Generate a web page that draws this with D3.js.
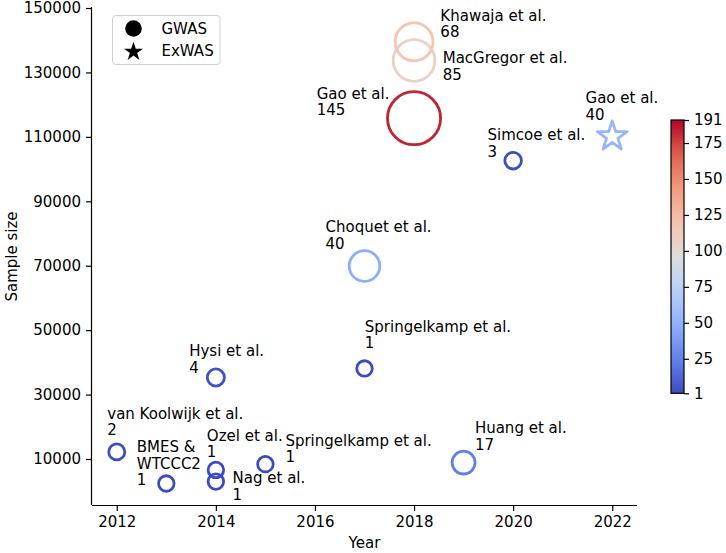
<!DOCTYPE html>
<html>
<head>
<meta charset="utf-8">
<script src="https://cdn.jsdelivr.net/npm/d3@7"></script>
<style>
  body { margin: 0; background: #fff; }
  text { font-family: "DejaVu Sans", sans-serif; fill: #000; }
</style>
</head>
<body>
<svg id="chart" width="726" height="553"></svg>
<script>
// ---------------- DATA ----------------
const studies = ["van Koolwijk et al.", "BMES & WTCCC2", "Hysi et al.", "Ozel et al.", "Nag et al.",
  "Springelkamp et al.", "Springelkamp et al.", "Choquet et al.", "Gao et al.", "MacGregor et al.",
  "Khawaja et al.", "Huang et al.", "Simcoe et al.", "Gao et al."];
const labelLines = [["van Koolwijk et al."], ["BMES &", "WTCCC2"], ["Hysi et al."], ["Ozel et al."], ["Nag et al."],
  ["Springelkamp et al."], ["Springelkamp et al."], ["Choquet et al."], ["Gao et al."], ["MacGregor et al."],
  ["Khawaja et al."], ["Huang et al."], ["Simcoe et al."], ["Gao et al."]];
const years = [2012, 2013, 2014, 2014, 2014, 2015, 2017, 2017, 2018, 2018, 2018, 2019, 2020, 2022];
const sampleSizes = [12200, 2400, 35300, 6600, 3000, 8400, 38100, 69900, 115800, 133700, 139500, 8900, 102600, 110600];
const lociCounts = [2, 1, 4, 1, 1, 1, 1, 40, 145, 85, 68, 17, 3, 40];
const colorValues = [3, 1, 4, 1, 1, 1, 1, 47, 183, 107, 118, 24, 3, 53];
const studyTypes = ["GWAS", "GWAS", "GWAS", "GWAS", "GWAS", "GWAS", "GWAS", "GWAS", "GWAS", "GWAS", "GWAS", "GWAS", "GWAS", "ExWAS"];
const xTicks = [2012, 2014, 2016, 2018, 2020, 2022];
const yTicks = [10000, 30000, 50000, 70000, 90000, 110000, 130000, 150000];
const cbarTicks = [1, 25, 50, 75, 100, 125, 150, 175, 191];
const legendTypes = ["GWAS", "ExWAS"];

// ---------------- LAYOUT (annotation offsets in px, first-line baseline) ----------------
const labelOffsets = [[-9.5, -33], [-29.5, -31], [-26.7, -21], [-9, -29], [16.7, 1.6],
  [20, -18.3], [0.3, -36.6], [-39, -33.7], [-97.3, -19.3], [28.7, 2.6],
  [26.3, -21], [11.3, -29.4], [-25.6, -20.3], [-26.7, -31.7]];

const svg = d3.select("#chart");
const mLeft = 92, mRight = 637, mTop = 8, mBottom = 505;

const x = d3.scaleLinear().domain([2011.5, 2022.5]).range([mLeft, mRight]);
const y = d3.scaleLinear().domain([-4280, 150000]).range([mBottom, mTop]);

// coolwarm colormap
const coolwarmStops = ["#3b4cc0", "#6282ea", "#8db0fe", "#b8d0f9", "#dddddd", "#f5c4ad", "#f49a7b", "#de604d", "#b40426"];
const coolwarm = d3.piecewise(d3.interpolateRgb, coolwarmStops);
const color = d3.scaleSequential(coolwarm).domain([1, 191]);

// marker size: area linear in loci count
const area = d3.scaleLinear().domain([1, 145]).range([60, 705]);
const radius = n => Math.sqrt(area(n));

const data = studies.map((s, i) => ({
  name: s, lines: labelLines[i].concat([String(lociCounts[i])]),
  year: years[i], size: sampleSizes[i], n: lociCounts[i], c: colorValues[i],
  type: studyTypes[i], off: labelOffsets[i]
}));

// axes
const xAxis = d3.axisBottom(x).tickValues(xTicks).tickFormat(d3.format("d")).tickSize(6).tickPadding(5);
const yAxis = d3.axisLeft(y).tickValues(yTicks).tickFormat(d3.format("d")).tickSize(6).tickPadding(5);

const gx = svg.append("g").attr("transform", `translate(0,${mBottom})`).call(xAxis);
gx.select(".domain").attr("d", `M${mLeft},0.5H${mRight}`);
const gy = svg.append("g").attr("transform", `translate(${mLeft},0)`).call(yAxis);
gy.select(".domain").attr("d", `M-0.5,${mBottom}V${mTop - 1}`);
[gx, gy].forEach(g => {
  g.selectAll("text").style("font-size", "15px").style("font-family", "DejaVu Sans, sans-serif").attr("fill", "#000");
  g.selectAll("line").attr("stroke", "#000").attr("stroke-width", 1.2);
  g.select(".domain").attr("stroke", "#000").attr("stroke-width", 1.2);
});

svg.append("text").attr("x", (mLeft + mRight) / 2).attr("y", 548).attr("text-anchor", "middle")
  .style("font-size", "15px").text("Year");
svg.append("text").attr("transform", `translate(17,${(mTop + mBottom) / 2}) rotate(-90)`)
  .attr("text-anchor", "middle").style("font-size", "15px").text("Sample size");

// markers
const starSym = d3.symbol().type(d3.symbolStar);
const marks = svg.append("g");
data.forEach(d => {
  const cx = x(d.year), cy = y(d.size), r = radius(d.n);
  if (d.type === "GWAS") {
    marks.append("circle").attr("cx", cx).attr("cy", cy).attr("r", r)
      .attr("fill", "none").attr("stroke", color(d.c)).attr("stroke-width", 2.8);
  } else {
    const R = r * 1.02;
    marks.append("path").attr("d", starSym.size(R * R / 0.8908130915292852)())
      .attr("transform", `translate(${cx},${cy + R * 0.1})`)
      .attr("fill", "none").attr("stroke", color(d.c)).attr("stroke-width", 2.8).attr("stroke-linejoin", "round");
  }
});

// labels
const labels = svg.append("g");
data.forEach(d => {
  const t = labels.append("text").attr("x", x(d.year) + d.off[0]).attr("y", y(d.size) + d.off[1])
    .style("font-size", "15px");
  d.lines.forEach((ln, k) => {
    t.append("tspan").attr("x", x(d.year) + d.off[0]).attr("dy", k === 0 ? 0 : 16.5).text(ln);
  });
});

// legend
const lg = svg.append("g");
lg.append("rect").attr("x", 112.5).attr("y", 15.5).attr("width", 107.5).attr("height", 49)
  .attr("rx", 3).attr("fill", "#fff").attr("fill-opacity", 0.8).attr("stroke", "#d0d0d0").attr("stroke-width", 1);
legendTypes.forEach((t, i) => {
  const ly = 28.5 + i * 22.3;
  if (t === "GWAS") {
    lg.append("circle").attr("cx", 133.5).attr("cy", ly).attr("r", 8.3).attr("fill", "#000");
  } else {
    const R = 10;
    lg.append("path").attr("d", starSym.size(R * R / 0.8908130915292852)())
      .attr("transform", `translate(133.5,${ly + 1})`).attr("fill", "#000");
  }
  lg.append("text").attr("x", 161.5).attr("y", ly + 5.3).style("font-size", "15px").text(t);
});

// colorbar
const cbX = 671, cbW = 13, cbTop = 120, cbBot = 393.3;
const cy2 = d3.scaleLinear().domain([1, 191]).range([cbBot, cbTop]);
const defs = svg.append("defs");
const grad = defs.append("linearGradient").attr("id", "cw").attr("x1", 0).attr("y1", 1).attr("x2", 0).attr("y2", 0);
d3.range(0, 1.0001, 0.05).forEach(t => {
  grad.append("stop").attr("offset", t).attr("stop-color", coolwarm(t));
});
svg.append("rect").attr("x", cbX).attr("y", cbTop).attr("width", cbW).attr("height", cbBot - cbTop)
  .attr("fill", "url(#cw)").attr("stroke", "#000").attr("stroke-width", 1.2);
const cbAxis = d3.axisRight(cy2).tickValues(cbarTicks).tickFormat(d3.format("d")).tickSize(5).tickPadding(5);
const gc = svg.append("g").attr("transform", `translate(${cbX + cbW},0)`).call(cbAxis);
gc.select(".domain").remove();
gc.selectAll("text").style("font-size", "15px").style("font-family", "DejaVu Sans, sans-serif").attr("fill", "#000");
gc.selectAll("line").attr("stroke", "#000").attr("stroke-width", 1.2);
</script>
</body>
</html>
